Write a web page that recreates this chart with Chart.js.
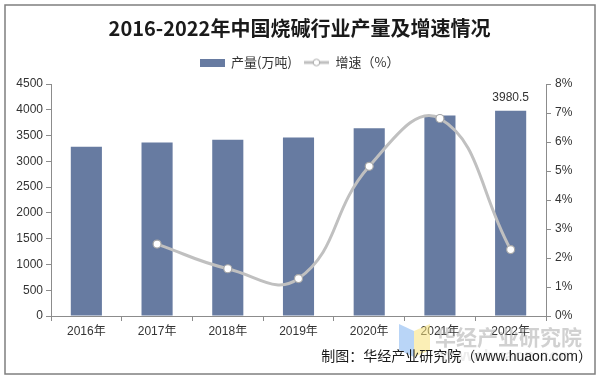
<!DOCTYPE html>
<html>
<head>
<meta charset="utf-8">
<script src="https://cdn.jsdelivr.net/npm/chart.js@4.4.0/dist/chart.umd.min.js"></script>
<style>
html,body{margin:0;padding:0;background:#fff;}
#wrap{width:599px;height:379px;position:relative;}
</style>
</head>
<body>
<div id="wrap"><canvas id="c" width="599" height="379"></canvas></div>
<script>
// ---- data ----
const years = ['2016年', '2017年', '2018年', '2019年', '2020年', '2021年', '2022年'];
const output = [3283.9, 3365.2, 3420.2, 3464.4, 3643.2, 3891.3, 3980.5];
const growth = [null, 2.48, 1.63, 1.29, 5.16, 6.81, 2.29];
const leftAxis = { min: 0, max: 4500, step: 500 };
const rightAxis = { min: 0, max: 8, step: 1 };
const labelledIndex = [6];
const seriesNames = ['产量(万吨)', '增速（%）'];
const titleText = '2016-2022年中国烧碱行业产量及增速情况';
const sourceText = '制图：华经产业研究院（www.huaon.com）';
const watermarkText = '华经产业研究院';

const BAR = '#677ba1';
const LINE = '#c0c0c0';
const AXIS = '#8c8c8c';
const TXT = '#333333';
const FONT = "'Liberation Sans', 'Noto Sans CJK SC', sans-serif";
const CJK = "'Noto Sans CJK SC', sans-serif";

// legend icons
function barIcon() {
  const c = document.createElement('canvas'); c.width = 25; c.height = 8;
  const x = c.getContext('2d'); x.fillStyle = BAR; x.fillRect(0, 0, 25, 8); return c;
}
function lineIcon() {
  const c = document.createElement('canvas'); c.width = 25; c.height = 10;
  const x = c.getContext('2d');
  x.strokeStyle = LINE; x.lineWidth = 3; x.beginPath(); x.moveTo(0, 5); x.lineTo(25, 5); x.stroke();
  x.beginPath(); x.arc(12.5, 5, 3.3, 0, Math.PI * 2); x.fillStyle = '#fff'; x.fill();
  x.strokeStyle = '#a6a6a6'; x.lineWidth = 1; x.stroke(); return c;
}
const icons = [barIcon(), lineIcon()];

const decor = {
  id: 'decor',
  beforeUpdate(chart) {
    const lg = chart.legend;
    if (lg && !lg._patched) {
      const orig = lg.fit;
      lg.fit = function () { orig.call(this); this.height += 5; };
      lg._patched = true;
    }
  },
  beforeDraw(chart) {
    const ctx = chart.ctx; ctx.save(); ctx.fillStyle = '#fff'; ctx.fillRect(0, 0, chart.width, chart.height); ctx.restore();
  },
  afterDatasetsDraw(chart) {
    const ctx = chart.ctx; const meta = chart.getDatasetMeta(0);
    ctx.save();
    ctx.font = '12px ' + FONT; ctx.fillStyle = TXT; ctx.textAlign = 'center'; ctx.textBaseline = 'middle';
    labelledIndex.forEach(i => {
      const el = meta.data[i];
      ctx.fillText(String(output[i]), el.x, el.y - 13);
    });
    ctx.restore();
  },
  afterDraw(chart) {
    const ctx = chart.ctx; ctx.save();
    // logo
    ctx.globalAlpha = 0.55;
    ctx.fillStyle = '#7fb2f0';
    ctx.beginPath(); ctx.moveTo(399, 324); ctx.lineTo(414, 331); ctx.lineTo(414, 357); ctx.lineTo(399, 350); ctx.closePath(); ctx.fill();
    ctx.fillStyle = '#f7e27a';
    ctx.beginPath(); ctx.moveTo(414, 331); ctx.lineTo(430, 324); ctx.lineTo(430, 350); ctx.lineTo(414, 357); ctx.closePath(); ctx.fill();
    // watermark
    ctx.globalAlpha = 0.45;
    ctx.fillStyle = '#9a9a9a'; ctx.font = 'bold 21px ' + CJK; ctx.textAlign = 'left'; ctx.textBaseline = 'middle';
    ctx.fillText(watermarkText, 435, 337);
    ctx.globalAlpha = 0.18; ctx.font = 'bold 17px ' + FONT;
    ctx.fillText('www.huaon.com', 440, 356);
    ctx.globalAlpha = 1;
    // source
    ctx.fillStyle = '#1a1a1a'; ctx.font = '14px ' + FONT; ctx.textAlign = 'right';
    ctx.fillText(sourceText, 592, 357);
    // border
    ctx.strokeStyle = '#7f7f7f'; ctx.lineWidth = 1.5;
    ctx.strokeRect(5, 5, 590, 369);
    ctx.restore();
  }
};

new Chart(document.getElementById('c'), {
  type: 'bar',
  data: {
    labels: years,
    datasets: [
      { type: 'bar', label: seriesNames[0], data: output, backgroundColor: BAR, yAxisID: 'y',
        categoryPercentage: 1, barPercentage: 0.44, order: 1 },
      { type: 'line', label: seriesNames[1], data: growth, yAxisID: 'y1', borderColor: LINE, borderWidth: 3,
        tension: 0.45, pointRadius: 4, pointBackgroundColor: '#fff', pointBorderColor: '#a6a6a6', pointBorderWidth: 1.2,
        order: 0 }
    ]
  },
  options: {
    responsive: false, animation: false, devicePixelRatio: 1,
    layout: { padding: { top: 6, left: 0, right: 0, bottom: 0 } },
    plugins: {
      title: { display: true, text: titleText, color: '#1a1a1a', font: { family: CJK, size: 20, weight: 'bold' },
        padding: { top: 10, bottom: 4 } },
      legend: { display: true, position: 'top',
        labels: { usePointStyle: true, pointStyleWidth: 25, font: { family: CJK, size: 13 }, color: TXT, padding: 12,
          generateLabels(chart) {
            const items = Chart.defaults.plugins.legend.labels.generateLabels(chart);
            items.sort((a, b) => a.datasetIndex - b.datasetIndex);
            items.forEach(it => { it.pointStyle = icons[it.datasetIndex]; });
            return items;
          } } },
      tooltip: { enabled: false }
    },
    scales: {
      x: {
        grid: { display: true, drawOnChartArea: false, drawTicks: true, tickLength: 5, color: AXIS, offset: true },
        border: { display: true, color: AXIS },
        ticks: { color: TXT, font: { family: FONT, size: 12 }, padding: 3, maxRotation: 0 },
        afterFit(s) { s.height = 63; }
      },
      y: {
        position: 'left', min: leftAxis.min, max: leftAxis.max,
        ticks: { stepSize: leftAxis.step, color: TXT, font: { family: FONT, size: 12 }, padding: 3,
          callback: v => String(v) },
        grid: { display: true, drawOnChartArea: false, drawTicks: true, tickLength: 5, color: AXIS },
        border: { display: true, color: AXIS },
        afterFit(s) { s.width = 51; }
      },
      y1: {
        position: 'right', min: rightAxis.min, max: rightAxis.max,
        ticks: { stepSize: rightAxis.step, color: TXT, font: { family: FONT, size: 12 }, padding: 4,
          callback: v => v + '%' },
        grid: { display: true, drawOnChartArea: false, drawTicks: true, tickLength: 5, color: AXIS },
        border: { display: true, color: AXIS },
        afterFit(s) { s.width = 53; }
      }
    }
  },
  plugins: [decor]
});
</script>
</body>
</html>
